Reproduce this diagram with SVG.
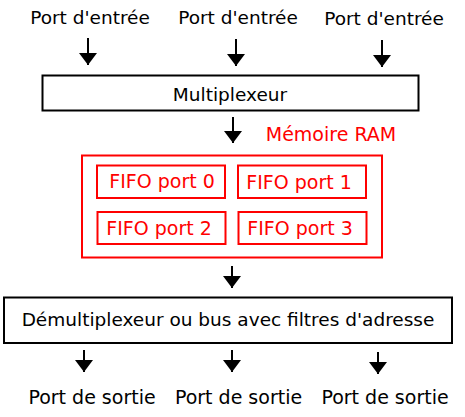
<svg xmlns="http://www.w3.org/2000/svg" width="465" height="417" viewBox="0 0 465 417">
<style>
text{font-family:"DejaVu Sans","Liberation Sans",sans-serif;font-size:19px;text-anchor:middle;fill:#000}
.sm{font-size:18.5px}
.red{fill:#ff0000}
.box{fill:#fff;stroke:#000;stroke-width:2}
.rbox{fill:none;stroke:#ff0000;stroke-width:2}
.arr{stroke:#000;stroke-width:2;marker-end:url(#ah)}
</style>
<defs>
<marker id="ah" viewBox="0 0 12 18" refX="12" refY="9" markerWidth="12" markerHeight="18" markerUnits="userSpaceOnUse" orient="auto">
<path d="M0,0 L12,9 L0,18 z" fill="#000"/>
</marker>
</defs>
<rect width="465" height="417" fill="#fff"/>
<g id="inputs">
<text class="sm" x="90" y="24">Port d'entrée</text>
<text class="sm" x="238" y="24">Port d'entrée</text>
<text class="sm" x="384" y="25">Port d'entrée</text>
</g>
<g id="multiplexeur">
<rect class="box" x="42.5" y="75.5" width="376" height="35"/>
<text class="sm" x="230" y="101">Multiplexeur</text>
</g>
<g id="ram">
<text class="red" x="331" y="141">Mémoire RAM</text>
<rect class="rbox" x="82" y="155.5" width="300" height="102"/>
</g>
<g id="fifo0"><rect class="rbox" x="97" y="165.5" width="128" height="32.5"/><text class="red" x="162" y="188">FIFO port 0</text></g>
<g id="fifo1"><rect class="rbox" x="238" y="165.5" width="128" height="32.5"/><text class="red" x="299" y="189">FIFO port 1</text></g>
<g id="fifo2"><rect class="rbox" x="97.5" y="212" width="128" height="32"/><text class="red" x="159" y="235">FIFO port 2</text></g>
<g id="fifo3"><rect class="rbox" x="238.5" y="212" width="128" height="32"/><text class="red" x="300" y="235">FIFO port 3</text></g>
<g id="demux">
<rect class="box" x="4" y="297.5" width="448" height="45.5"/>
<text class="sm" x="228" y="326">Démultiplexeur ou bus avec filtres d'adresse</text>
</g>
<g id="outputs">
<text x="92" y="404">Port de sortie</text>
<text x="238.5" y="404">Port de sortie</text>
<text x="385" y="404">Port de sortie</text>
</g>
<g id="connectors">
<line class="arr" x1="88" y1="38" x2="88" y2="65"/>
<line class="arr" x1="236" y1="39" x2="236" y2="66"/>
<line class="arr" x1="382" y1="40" x2="382" y2="67"/>
<line class="arr" x1="233" y1="117" x2="233" y2="143"/>
<line class="arr" x1="232" y1="266" x2="232" y2="288"/>
<line class="arr" x1="84" y1="350" x2="84" y2="372"/>
<line class="arr" x1="232" y1="350" x2="232" y2="372"/>
<line class="arr" x1="378" y1="352" x2="378" y2="374"/>
</g>
</svg>
